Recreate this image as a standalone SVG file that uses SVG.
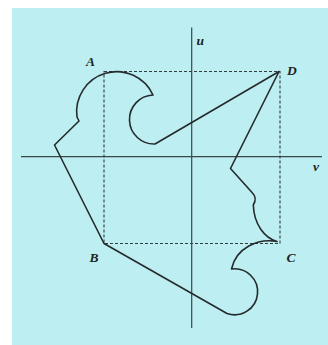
<svg xmlns="http://www.w3.org/2000/svg" width="328" height="345" viewBox="0 0 328 345">
<style>
.axis{stroke:#3a4648;stroke-width:1.2;fill:none}
.dash{stroke:#323d3f;stroke-width:1.1;stroke-dasharray:3 2;fill:none}
.shape{stroke:#252b2d;stroke-width:1.6;fill:none;stroke-linejoin:round}
.lbl{font-family:"Liberation Serif","DejaVu Serif",serif;font-style:italic;font-weight:bold;font-size:13.5px;fill:#1e2426}
</style>
<rect x="0" y="0" width="328" height="345" fill="#ffffff"/>
<rect x="12" y="8" width="316" height="337" fill="#bdeef2"/>
<g id="axes">
<line class="axis" x1="191.7" y1="27.5" x2="191.7" y2="328"/>
<line class="axis" x1="21" y1="156.7" x2="322" y2="156.7"/>
</g>
<g id="rectangle">
<rect class="dash" x="104" y="71.5" width="176" height="172"/>
</g>
<g id="curve">
<path class="shape" d="M104,243.5 L54.5,145 L79,121 L77,117 A40,40 0 0 1 153,95 A24.5,24.5 0 1 0 155,144 L279,71.5 L230.5,168.5 L252.5,193 Q257.5,198 253.3,205 C254,225 265,238 277,241.5 C258,238 236,248 231.5,269 A23,23 0 1 1 227,313.5 Z"/>
</g>
<g id="labels">
<text class="lbl" x="86" y="65.5">A</text>
<text class="lbl" x="196.5" y="44.5">u</text>
<text class="lbl" x="287" y="75">D</text>
<text class="lbl" x="313" y="170.5">v</text>
<text class="lbl" x="89.5" y="261.5">B</text>
<text class="lbl" x="286.5" y="261.5">C</text>
</g>
</svg>
